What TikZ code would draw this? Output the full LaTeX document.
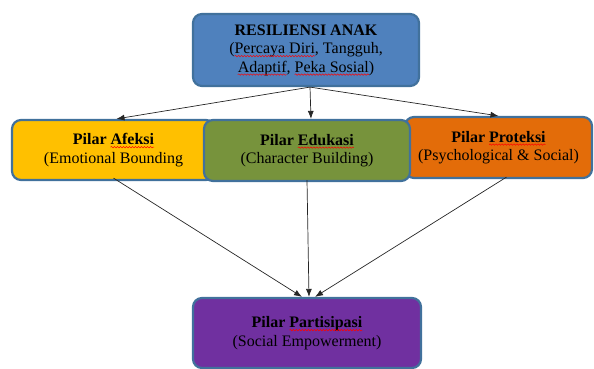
\documentclass[tikz,border=0pt]{standalone}
\usepackage{fontspec}
\setmainfont{Liberation Serif}
\usetikzlibrary{arrows.meta,decorations.pathmorphing}

\definecolor{pilarline}{RGB}{65,113,156}
\definecolor{pilarblue}{RGB}{79,129,189}
\definecolor{pilaryellow}{RGB}{255,192,0}
\definecolor{pilargreen}{RGB}{119,147,60}
\definecolor{pilarorange}{RGB}{227,108,9}
\definecolor{pilarpurple}{RGB}{112,48,160}

% red wavy underline as in the word processor
\newcommand{\wavy}[1]{\tikz[baseline=(w.base)]{\node[inner sep=0pt, outer sep=0pt, minimum width=0pt,
        minimum height=0pt, draw=none, fill=none, sharp corners, align=left] (w) {#1};
    \draw[overlay, red, line width=0.5pt, sharp corners, decorate, decoration={snake, amplitude=0.7pt, segment length=3pt}]
    ([yshift=-2.5pt]w.base west) -- ([yshift=-2.5pt]w.base east);}}

\begin{document}
\begin{tikzpicture}[x=1pt, y=-1pt,
    pilar/.style={draw=pilarline, line width=2.2pt, rounded corners=9pt, align=center,
        font=\fontsize{16}{18.5}\selectfont, inner sep=2pt},
    link/.style={draw=black!85, line width=0.7pt, -{Latex[length=8pt,width=6pt]}}]
    \useasboundingbox (0,0) rectangle (594,369);

    \node[pilar, fill=pilarblue, minimum width=226pt, minimum height=72pt] (anak) at (306,50)
        {\textbf{RESILIENSI ANAK}\\(\wavy{Percaya Diri}, Tangguh,\\\wavy{Adaptif}, \wavy{Peka Sosial})};

    \node[pilar, fill=pilaryellow, minimum width=203pt, minimum height=60pt] (afeksi) at (113.5,150)
        {\textbf{Pilar \wavy{Afeksi}}\\(Emotional Bounding};
    \node[pilar, fill=pilarorange, minimum width=187pt, minimum height=61pt] (proteksi) at (498.5,147.5)
        {\textbf{Pilar \wavy{Proteksi}}\\(Psychological \& Social)};
    \node[pilar, fill=pilargreen, minimum width=206pt, minimum height=61pt] (edukasi) at (307,150.5)
        {\textbf{Pilar \wavy{Edukasi}}\\(Character Building)};

    \node[pilar, fill=pilarpurple, minimum width=228pt, minimum height=70pt] (partisipasi) at (307,333)
        {\textbf{Pilar \wavy{Partisipasi}}\\(Social Empowerment)};

    \draw[link] ([xshift=4pt]anak.south) -- ([xshift=3pt]afeksi.north);
    \draw[link] ([xshift=4pt]anak.south) -- ([xshift=4pt]edukasi.north);
    \draw[link] ([xshift=4pt]anak.south) -- (proteksi.north);

    \draw[link] ([yshift=3pt]afeksi.south) -- ([xshift=-5pt]partisipasi.north);
    \draw[link] ([yshift=2pt]edukasi.south) -- ([xshift=2pt]partisipasi.north);
    \draw[link] ([xshift=8pt,yshift=2pt]proteksi.south) -- ([xshift=8pt]partisipasi.north);
\end{tikzpicture}
\end{document}
